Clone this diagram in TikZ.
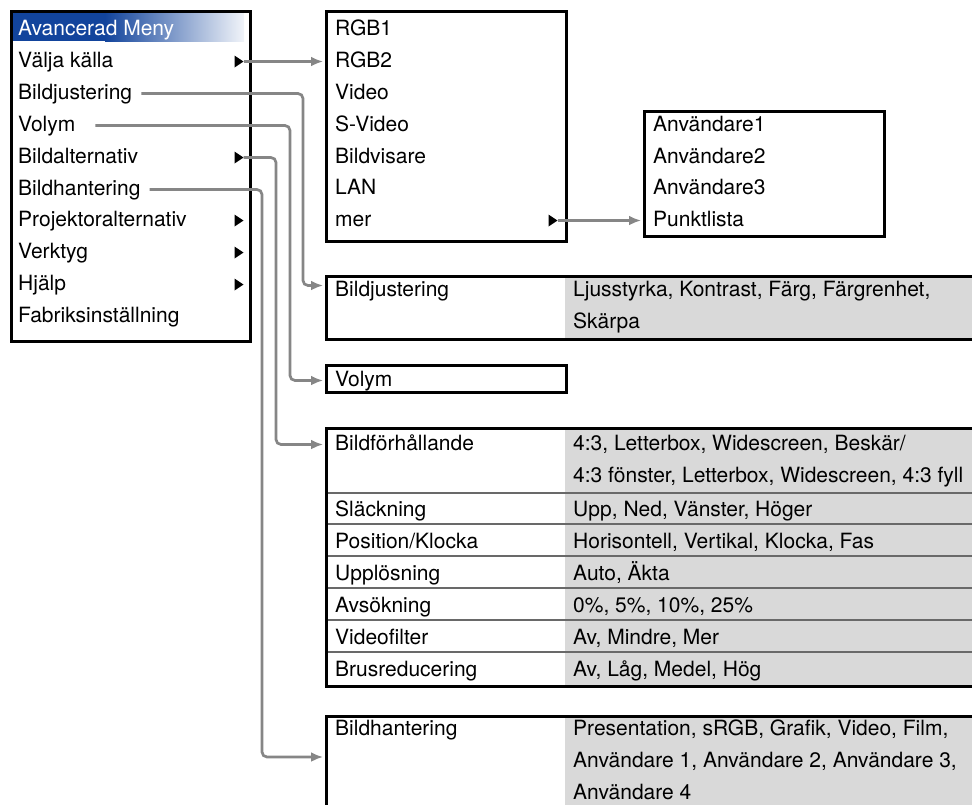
\documentclass[tikz,border=0pt]{standalone}
\usepackage{fontspec}
\setmainfont{TeX Gyre Heros}
\usetikzlibrary{positioning, arrows.meta}
\definecolor{MenuBlue}{RGB}{18, 68, 156}
\definecolor{CellGray}{RGB}{217, 217, 217}
\definecolor{LinkGray}{RGB}{134, 134, 134}
\definecolor{RuleGray}{RGB}{105, 105, 105}

\tikzset{
  frame/.style={draw=black, line width=2.5pt, inner sep=0pt, anchor=north west},
  entry/.style={inner sep=0pt, anchor=base west, text height=15pt, text depth=4pt,
                font=\fontsize{21}{25}\selectfont},
  conn/.style={draw=LinkGray, line width=2.7pt, rounded corners=5pt, shorten >=2pt,
               -{Latex[length=12pt, width=10pt]}},
  rowrule/.style={draw=RuleGray, line width=1.5pt},
}

\begin{document}
\begin{tikzpicture}[x=1pt, y=-1pt]
  \useasboundingbox (0,0) rectangle (972,804);
  \clip (0,0) rectangle (972,804);

  % Main menu
  \fill[MenuBlue] (13,13) rectangle (105,41);
  \shade[left color=MenuBlue, right color=MenuBlue!6] (105,13) rectangle (244,41);
  \node[frame, minimum width=239pt, minimum height=330pt] (mainBox) at (10,10) {};
  \node[entry, text=white] (title) at (18,35) {Avancerad Meny};
  \node[entry] (vk) at (18,67) {Välja källa};
  \node[entry] (bj) at (18,99) {Bildjustering};
  \node[entry] (vol) at (18,131) {Volym};
  \node[entry] (ba) at (18,163) {Bildalternativ};
  \node[entry] (bh) at (18,195) {Bildhantering};
  \node[entry] (pa) at (18,226) {Projektoralternativ};
  \node[entry] (vt) at (18,258) {Verktyg};
  \node[entry] (hj) at (18,290) {Hjälp};
  \node[entry] (fi) at (18,322) {Fabriksinställning};
  \foreach \r in {vk, ba, pa, vt, hj}
    \fill ([xshift=-17pt]mainBox.east |- \r) ++(0,-6) -- ++(9,6) -- ++(-9,6) -- cycle;
  \coordinate (vkTip) at ([xshift=-8pt]mainBox.east |- vk);
  \coordinate (baTip) at ([xshift=-8pt]mainBox.east |- ba);

  % Source list
  \node[frame, minimum width=240pt, minimum height=230pt] (srcBox) at (325,10) {};
  \node[entry] (rgb1) at (335,35) {RGB1};
  \node[entry] (rgb2) at (335,67) {RGB2};
  \node[entry] (video) at (335,99) {Video};
  \node[entry] (svideo) at (335,131) {S-Video};
  \node[entry] (viewer) at (335,163) {Bildvisare};
  \node[entry] (lan) at (335,194) {LAN};
  \node[entry] (mer) at (335,226) {mer};
  \fill ([xshift=-19pt]srcBox.east |- mer) ++(0,-6) -- ++(9,6) -- ++(-9,6) -- cycle;
  \coordinate (merTip) at ([xshift=-10pt]srcBox.east |- mer);

  % User list
  \node[frame, minimum width=240pt, minimum height=125pt] (anvBox) at (643,110) {};
  \node[entry] (anv1) at (653,131) {Användare1};
  \node[entry] (anv2) at (653,163) {Användare2};
  \node[entry] (anv3) at (653,194) {Användare3};
  \node[entry] (punkt) at (653,226) {Punktlista};

  % Bildjustering table
  \fill[CellGray] (565,275) rectangle (1030,338);
  \node[frame, minimum width=700pt, minimum height=63pt] (bjTab) at (325,275) {};
  \node[entry] (bjHead) at (335,296) {Bildjustering};
  \node[entry] (bjVal1) at (573,296) {Ljusstyrka, Kontrast, Färg, Färgrenhet,};
  \node[entry] (bjVal2) at (573,328) {Skärpa};

  % Volym box
  \node[frame, minimum width=240pt, minimum height=27pt] (volBox) at (325,364) {};
  \node[entry] (volHead) at (335,386) {Volym};

  % Bildalternativ table
  \fill[CellGray] (565,427) rectangle (1030,685);
  \foreach \y in {493, 524, 556, 588, 620, 652}
    \draw[rowrule] (325,\y) -- (1030,\y);
  \node[frame, minimum width=700pt, minimum height=258pt] (baTab) at (325,427) {};
  \node[entry] (baHead) at (335,450) {Bildförhållande};
  \node[entry] (baVal1) at (573,450) {4:3, Letterbox, Widescreen, Beskär/};
  \node[entry] (baVal2) at (573,482) {4:3 fönster, Letterbox, Widescreen, 4:3 fyll};
  \node[entry] (slHead) at (335,516) {Släckning};
  \node[entry] (slVal) at (573,516) {Upp, Ned, Vänster, Höger};
  \node[entry] (poHead) at (335,548) {Position/Klocka};
  \node[entry] (poVal) at (573,548) {Horisontell, Vertikal, Klocka, Fas};
  \node[entry] (upHead) at (335,580) {Upplösning};
  \node[entry] (upVal) at (573,580) {Auto, Äkta};
  \node[entry] (avHead) at (335,612) {Avsökning};
  \node[entry] (avVal) at (573,612) {0\%, 5\%, 10\%, 25\%};
  \node[entry] (vfHead) at (335,644) {Videofilter};
  \node[entry] (vfVal) at (573,644) {Av, Mindre, Mer};
  \node[entry] (brHead) at (335,676) {Brusreducering};
  \node[entry] (brVal) at (573,676) {Av, Låg, Medel, Hög};

  % Bildhantering table
  \fill[CellGray] (565,715) rectangle (1030,840);
  \node[frame, minimum width=700pt, minimum height=120pt] (bhTab) at (325,715) {};
  \node[entry] (bhHead) at (335,735) {Bildhantering};
  \node[entry] (bhVal1) at (573,735) {Presentation, sRGB, Grafik, Video, Film,};
  \node[entry] (bhVal2) at (573,767) {Användare 1, Användare 2, Användare 3,};
  \node[entry] (bhVal3) at (573,799) {Användare 4};

  % Links
  \draw[conn] (vkTip) -- (srcBox.west |- rgb2);
  \draw[conn] (merTip) -- (anvBox.west |- punkt);
  \draw[conn] ([xshift=9pt]bj.east) -| ([xshift=-22pt, yshift=5pt]bjTab.west |- bjHead)
              -- ([yshift=5pt]bjTab.west |- bjHead);
  \draw[conn] ([xshift=20pt]vol.east) -| ([xshift=-35pt]volBox.west |- volHead)
              -- (volBox.west |- volHead);
  \draw[conn] (baTip) -| ([xshift=-49pt]baTab.west |- baHead) -- (baTab.west |- baHead);
  \draw[conn] ([xshift=9pt]bh.east) -| ([xshift=-63pt, yshift=4.5pt]bhTab.west |- bhVal2)
              -- ([yshift=4.5pt]bhTab.west |- bhVal2);
\end{tikzpicture}
\end{document}
